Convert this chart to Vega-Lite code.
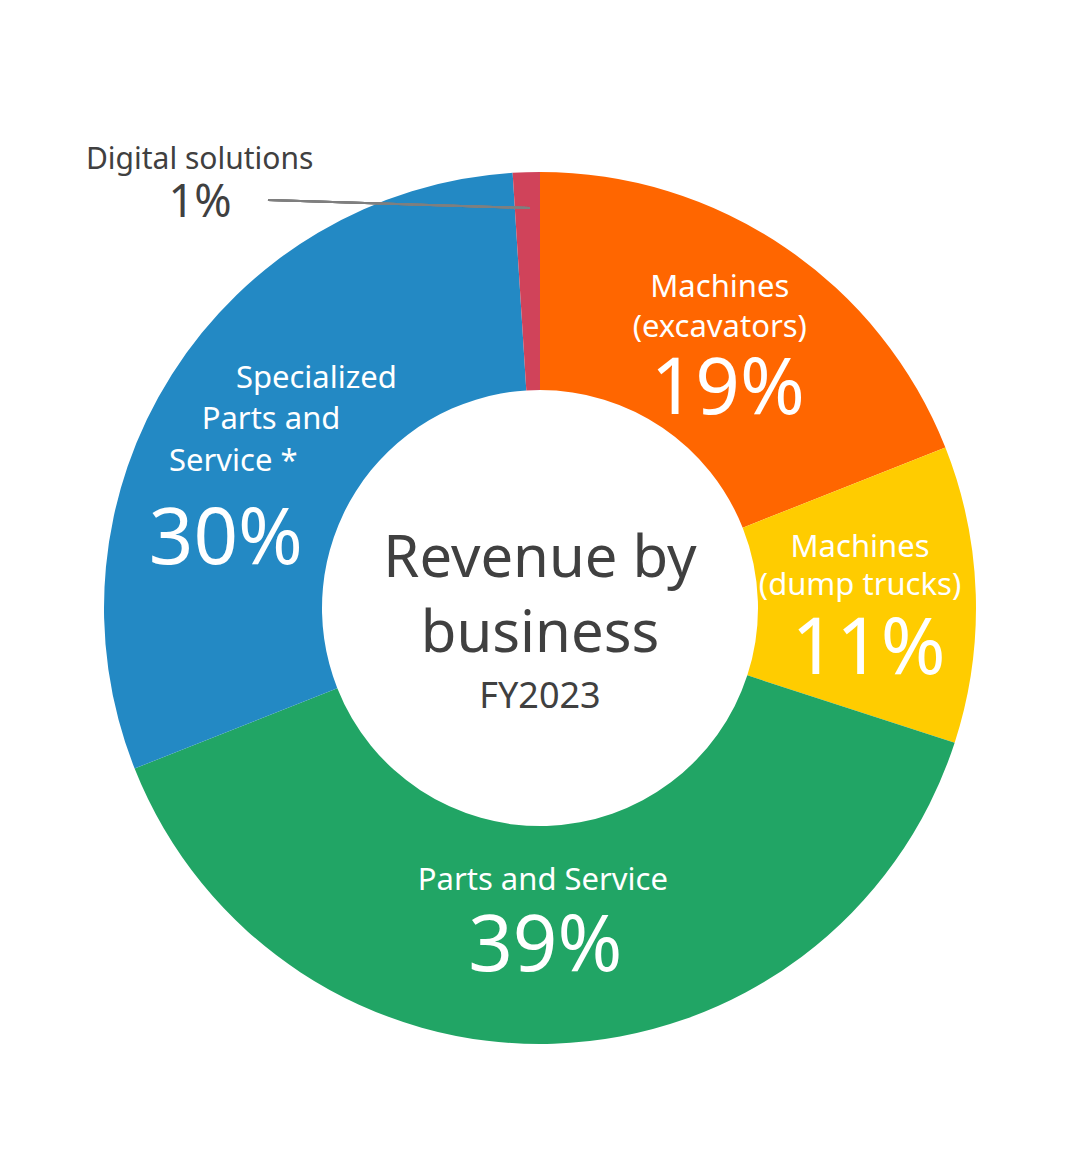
{
  "$schema": "https://vega.github.io/schema/vega-lite/v6.json",
  "width": 1085,
  "height": 1162,
  "autosize": {"type": "fit", "contains": "padding"},
  "padding": {"top": 54, "left": 0, "right": 5, "bottom": 0},
  "background": "white",
  "config": {"view": {"stroke": null}, "font": "Noto Sans", "text": {"font": "Noto Sans"}},
  "datasets": {
    "biz": [
      {"business": "Machines (excavators)", "lines": ["Machines", "(excavators)"], "pct": "19%", "share": 19, "order": 1},
      {"business": "Machines (dump trucks)", "lines": ["Machines", "(dump trucks)"], "pct": "11%", "share": 11, "order": 2},
      {"business": "Parts and Service", "lines": ["Parts and Service"], "pct": "39%", "share": 39, "order": 3},
      {"business": "Specialized Parts and Service", "lines": ["Specialized", "Parts and", "Service *"], "pct": "30%", "share": 30, "order": 4},
      {"business": "Digital solutions", "lines": ["Digital solutions"], "pct": "1%", "share": 1, "order": 5}
    ],
    "center": [{"title": ["Revenue by", "business"], "sub": "FY2023"}]
  },
  "data": {"name": "biz"},
  "layer": [
    {
      "mark": {"type": "arc", "outerRadius": 436, "innerRadius": 218},
      "encoding": {
        "theta": {"field": "share", "type": "quantitative", "stack": true, "scale": {"domain": [0, 100]}},
        "order": {"field": "order", "type": "quantitative"},
        "color": {
          "field": "business", "type": "nominal", "legend": null,
          "scale": {
            "domain": ["Machines (excavators)", "Machines (dump trucks)", "Parts and Service", "Specialized Parts and Service", "Digital solutions"],
            "range": ["#FF6600", "#FFCC00", "#21A565", "#2389C4", "#D0435A"]
          }
        }
      }
    },
    {
      "mark": {"type": "rule", "color": "#7f7f7f", "strokeWidth": 2},
      "encoding": {"x": {"value": 268}, "x2": {"value": 530}, "y": {"value": 146}, "y2": {"value": 154}}
    },
    {
      "transform": [
        {"stack": "share", "groupby": [], "sort": [{"field": "order", "order": "ascending"}], "as": ["s0", "s1"]},
        {"filter": "datum.order == 1"}
      ],
      "mark": {"type": "text", "radius": 352, "thetaOffset": 0.536, "fontSize": 31, "color": "white", "lineHeight": 40, "align": "center", "baseline": "middle", "dy": -17},
      "encoding": {"theta": {"field": "s0", "type": "quantitative"}, "text": {"field": "lines", "type": "nominal"}}
    },
    {
      "transform": [
        {"stack": "share", "groupby": [], "sort": [{"field": "order", "order": "ascending"}], "as": ["s0", "s1"]},
        {"filter": "datum.order == 1"}
      ],
      "mark": {"type": "text", "radius": 289, "thetaOffset": 0.707, "fontSize": 78, "color": "white", "align": "center", "baseline": "middle", "dy": 3},
      "encoding": {"theta": {"field": "s0", "type": "quantitative"}, "text": {"field": "pct", "type": "nominal"}}
    },
    {
      "transform": [
        {"stack": "share", "groupby": [], "sort": [{"field": "order", "order": "ascending"}], "as": ["s0", "s1"]},
        {"filter": "datum.order == 2"}
      ],
      "mark": {"type": "text", "radius": 323, "thetaOffset": 0.241, "fontSize": 31, "color": "white", "lineHeight": 38, "align": "center", "baseline": "middle", "dy": -16},
      "encoding": {"theta": {"field": "s0", "type": "quantitative"}, "text": {"field": "lines", "type": "nominal"}}
    },
    {
      "transform": [
        {"stack": "share", "groupby": [], "sort": [{"field": "order", "order": "ascending"}], "as": ["s0", "s1"]},
        {"filter": "datum.order == 2"}
      ],
      "mark": {"type": "text", "radius": 331, "thetaOffset": 0.498, "fontSize": 78, "color": "white", "align": "center", "baseline": "middle", "dy": 3},
      "encoding": {"theta": {"field": "s0", "type": "quantitative"}, "text": {"field": "pct", "type": "nominal"}}
    },
    {
      "transform": [
        {"stack": "share", "groupby": [], "sort": [{"field": "order", "order": "ascending"}], "as": ["s0", "s1"]},
        {"filter": "datum.order == 3"}
      ],
      "mark": {"type": "text", "radius": 270, "thetaOffset": 1.246, "fontSize": 31, "color": "white", "align": "center", "baseline": "middle", "dy": 3},
      "encoding": {"theta": {"field": "s0", "type": "quantitative"}, "text": {"field": "lines", "type": "nominal"}}
    },
    {
      "transform": [
        {"stack": "share", "groupby": [], "sort": [{"field": "order", "order": "ascending"}], "as": ["s0", "s1"]},
        {"filter": "datum.order == 3"}
      ],
      "mark": {"type": "text", "radius": 336, "thetaOffset": 1.241, "fontSize": 78, "color": "white", "align": "center", "baseline": "middle", "dy": 4},
      "encoding": {"theta": {"field": "s0", "type": "quantitative"}, "text": {"field": "pct", "type": "nominal"}}
    },
    {
      "transform": [
        {"stack": "share", "groupby": [], "sort": [{"field": "order", "order": "ascending"}], "as": ["s0", "s1"]},
        {"filter": "datum.order == 4"}
      ],
      "mark": {"type": "text", "radius": 322, "thetaOffset": 1.18, "fontSize": 31, "color": "white", "align": "center", "baseline": "middle", "dy": 3},
      "encoding": {"theta": {"field": "s0", "type": "quantitative"}, "text": {"field": "lines[0]", "type": "nominal"}}
    },
    {
      "transform": [
        {"stack": "share", "groupby": [], "sort": [{"field": "order", "order": "ascending"}], "as": ["s0", "s1"]},
        {"filter": "datum.order == 4"}
      ],
      "mark": {"type": "text", "radius": 330, "thetaOffset": 0.995, "fontSize": 31, "color": "white", "align": "center", "baseline": "middle", "dy": 3},
      "encoding": {"theta": {"field": "s0", "type": "quantitative"}, "text": {"field": "lines[1]", "type": "nominal"}}
    },
    {
      "transform": [
        {"stack": "share", "groupby": [], "sort": [{"field": "order", "order": "ascending"}], "as": ["s0", "s1"]},
        {"filter": "datum.order == 4"}
      ],
      "mark": {"type": "text", "radius": 341, "thetaOffset": 0.829, "fontSize": 31, "color": "white", "align": "center", "baseline": "middle", "dy": 3},
      "encoding": {"theta": {"field": "s0", "type": "quantitative"}, "text": {"field": "lines[2]", "type": "nominal"}}
    },
    {
      "transform": [
        {"stack": "share", "groupby": [], "sort": [{"field": "order", "order": "ascending"}], "as": ["s0", "s1"]},
        {"filter": "datum.order == 4"}
      ],
      "mark": {"type": "text", "radius": 322, "thetaOffset": 0.599, "fontSize": 78, "color": "white", "align": "center", "baseline": "middle", "dy": 4},
      "encoding": {"theta": {"field": "s0", "type": "quantitative"}, "text": {"field": "pct", "type": "nominal"}}
    },
    {
      "transform": [
        {"stack": "share", "groupby": [], "sort": [{"field": "order", "order": "ascending"}], "as": ["s0", "s1"]},
        {"filter": "datum.order == 5"}
      ],
      "mark": {"type": "text", "radius": 564, "thetaOffset": -0.585, "fontSize": 30, "color": "#404040", "align": "center", "baseline": "middle", "dy": 2},
      "encoding": {"theta": {"field": "s0", "type": "quantitative"}, "text": {"field": "lines", "type": "nominal"}}
    },
    {
      "transform": [
        {"stack": "share", "groupby": [], "sort": [{"field": "order", "order": "ascending"}], "as": ["s0", "s1"]},
        {"filter": "datum.order == 5"}
      ],
      "mark": {"type": "text", "radius": 531, "thetaOffset": -0.632, "fontSize": 45, "color": "#404040", "align": "center", "baseline": "middle", "dy": 3},
      "encoding": {"theta": {"field": "s0", "type": "quantitative"}, "text": {"field": "pct", "type": "nominal"}}
    },
    {
      "data": {"name": "center"},
      "mark": {"type": "text", "fontSize": 58, "color": "#404040", "lineHeight": 75, "align": "center", "baseline": "middle", "dy": -48},
      "encoding": {"text": {"field": "title", "type": "nominal"}}
    },
    {
      "data": {"name": "center"},
      "mark": {"type": "text", "fontSize": 36, "color": "#404040", "align": "center", "baseline": "middle", "dy": 89},
      "encoding": {"text": {"field": "sub", "type": "nominal"}}
    }
  ]
}
